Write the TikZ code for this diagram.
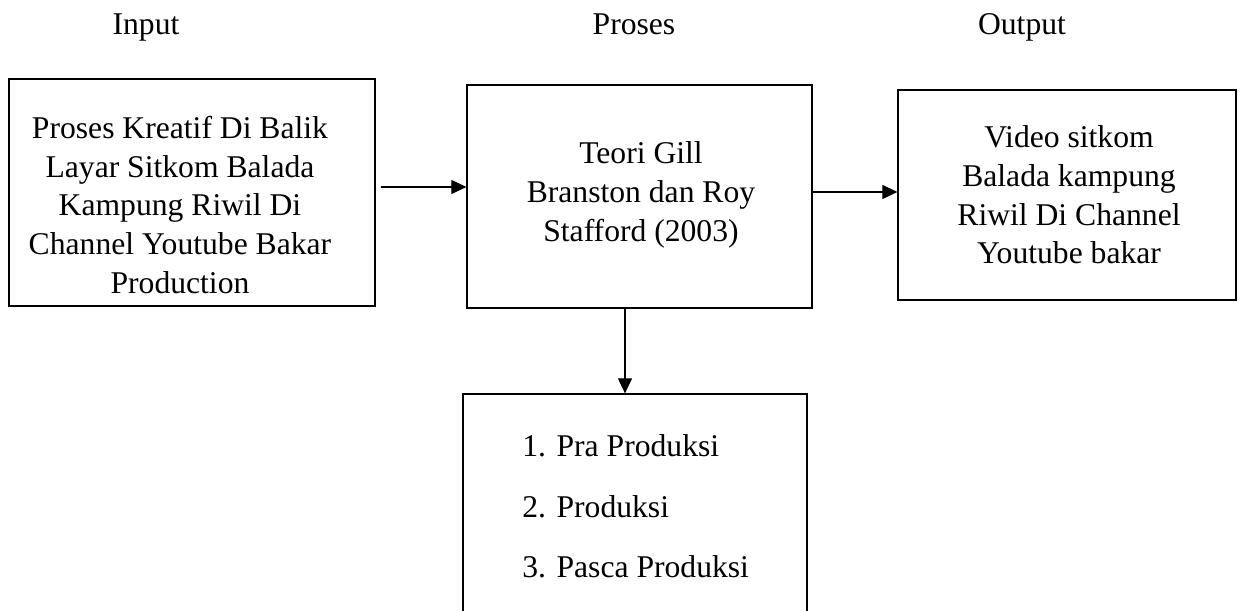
\documentclass[tikz,border=0pt]{standalone}
\usepackage{fontspec}
\setmainfont{Liberation Serif}
\usepackage{tikz}
\usetikzlibrary{
    arrows.meta,
    positioning
}
\definecolor{lineblack}{RGB}{0,0,0}
\tikzset{
    % Box styles
    flow box/.style={
        draw=lineblack,
        line width=0.7pt,
        rectangle,
        inner sep=0pt
    },
    box text/.style={
        align=center,
        inner sep=0pt,
        font=\fontsize{18}{22}\selectfont
    },
    head text/.style={
        anchor=base,
        inner sep=0pt,
        font=\fontsize{18}{22}\selectfont
    },
    % Arrow styles
    flow arrow/.style={
        -{Triangle[length=0.3cm,width=0.28cm]},
        line width=0.6pt,
        lineblack
    }
}

\begin{document}
\begin{tikzpicture}
        \useasboundingbox (0,0) rectangle (24.84,-12.22);
        \clip (0,0) rectangle (24.84,-12.22);

        % Column headings
        \node[head text] (headin) at (2.92,-0.7) {Input};
        \node[head text] (headpro) at (12.68,-0.7) {Proses};
        \node[head text] (headout) at (20.44,-0.7) {Output};

        % Boxes
        \node[flow box, minimum width=7.32cm, minimum height=4.54cm] (input) at (3.84,-3.85) {};
        \node[flow box, minimum width=6.9cm, minimum height=4.46cm] (proses) at (12.79,-3.93) {};
        \node[flow box, minimum width=6.76cm, minimum height=4.2cm] (output) at (21.34,-3.9) {};
        \node[flow box, minimum width=6.88cm, minimum height=4.8cm] (tahapan) at (12.7,-10.28) {};

        % Box texts
        \node[box text] (inputtext) at (3.6,-4.1) {Proses Kreatif Di Balik\\Layar Sitkom Balada\\Kampung Riwil Di\\Channel Youtube Bakar\\Production};
        \node[box text] (prosestext) at (12.82,-3.9) {Teori Gill\\Branston dan Roy\\Stafford (2003)};
        \node[box text] (outputtext) at (21.38,-3.9) {Video sitkom\\Balada kampung\\Riwil Di Channel\\Youtube bakar};
        \foreach \i/\txt in {1/Pra Produksi,2/Produksi,3/Pasca Produksi} {
            \node[head text, anchor=base west] (tahap\i) at (10.44,{-9.14-1.21*(\i-1)}) {\i. \txt};
        }

        % Arrows
        \draw[flow arrow] ([xshift=0.1cm,yshift=0.11cm]input.east) -- ([yshift=0.11cm]input.east -| proses.west);
        \draw[flow arrow] ([yshift=0.09cm]proses.east) -- ([yshift=0.09cm]proses.east -| output.west);
        \draw[flow arrow] ([xshift=-0.29cm]proses.south) -- ([xshift=-0.29cm]proses.south |- tahapan.north);
    \end{tikzpicture}
\end{document}
